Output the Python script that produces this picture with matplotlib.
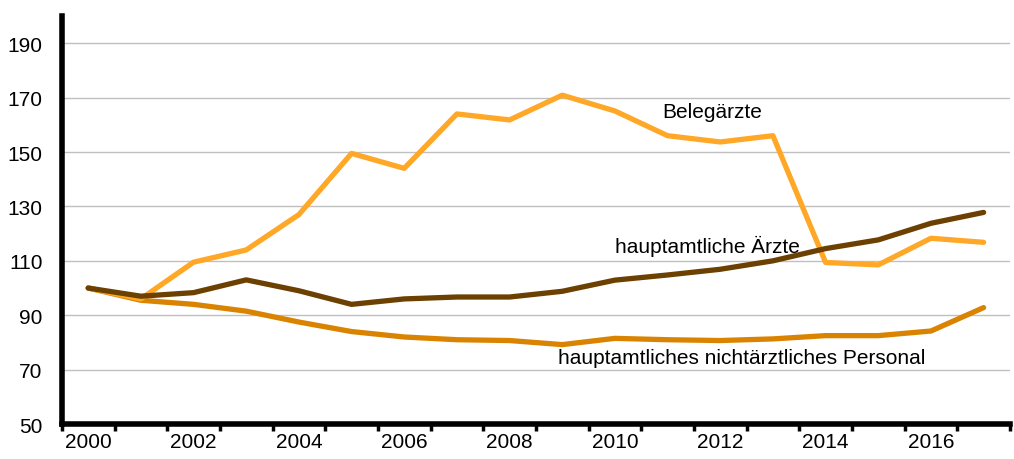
import matplotlib.pyplot as plt
import numpy as np

plt.rcParams['font.family'] = ['Liberation Sans', 'DejaVu Sans']

years = list(range(2000, 2018))
belegaerzte = [100, 96, 109.5, 114, 127, 149.5, 144, 164, 161.8, 170.9, 165.1,
               156, 153.7, 156, 109.4, 108.5, 118.3, 116.8]
aerzte = [100, 97, 98.3, 103, 99, 94, 96, 96.7, 96.7, 98.8, 102.9,
          104.8, 106.9, 110, 114.5, 117.7, 123.8, 127.8]
personal = [100, 95.5, 94, 91.5, 87.5, 84, 82, 81, 80.7, 79.2, 81.5,
            81, 80.7, 81.3, 82.5, 82.5, 84.2, 92.8]

col_beleg = '#FFA726'
col_aerzte = '#6B4000'
col_pers = '#D98300'

fig = plt.figure(figsize=(10.14, 4.6), dpi=100)
ax = fig.add_axes([0.061, 0.076, 0.935, 0.887])

x = np.arange(len(years))
ax.plot(x, personal, color=col_pers, lw=3.8, solid_capstyle='round', zorder=3)
ax.plot(x, belegaerzte, color=col_beleg, lw=3.8, solid_capstyle='round', zorder=4)
ax.plot(x, aerzte, color=col_aerzte, lw=3.8, solid_capstyle='round', zorder=5)

ax.set_xlim(-0.5, len(years) - 0.5)
ax.set_ylim(50, 200)
ax.set_yticks(np.arange(50, 191, 20))
ax.yaxis.grid(True, color='#c0c0c0', lw=1)
ax.set_axisbelow(True)

ax.set_xticks(x[::2])
ax.set_xticklabels([str(y) for y in years[::2]])
ax.set_xticks(np.arange(-0.5, len(years)), minor=True)
ax.tick_params(axis='x', which='major', length=0, pad=6, labelsize=15)
ax.tick_params(axis='x', which='minor', length=5, width=2.5, color='black')
ax.tick_params(axis='y', length=0, pad=14, labelsize=15)

for s in ['top', 'right']:
    ax.spines[s].set_visible(False)
for s in ['left', 'bottom']:
    ax.spines[s].set_linewidth(4)
    ax.spines[s].set_color('black')

ax.text(11.84, 165, 'Belegärzte', fontsize=15, ha='center', va='center')
ax.text(11.75, 115.7, 'hauptamtliche Ärzte', fontsize=15, ha='center', va='center')
ax.text(12.41, 74.6, 'hauptamtliches nichtärztliches Personal', fontsize=15,
        ha='center', va='center')

fig.savefig('out.png', dpi=100)
